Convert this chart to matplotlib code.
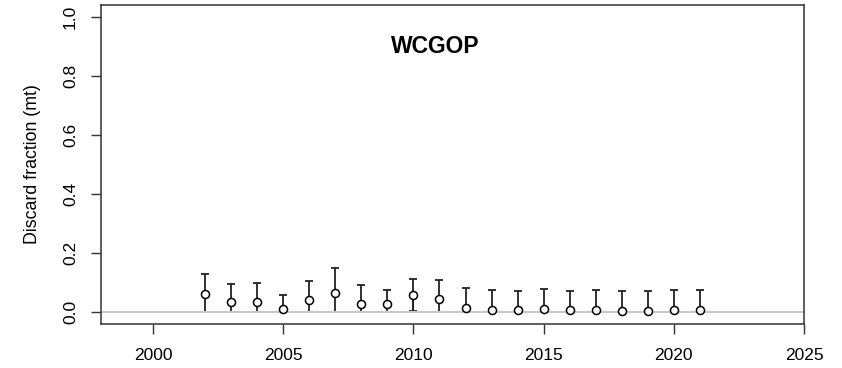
import matplotlib
matplotlib.use("Agg")
import matplotlib.pyplot as plt
import numpy as np

years = [2002, 2003, 2004, 2005, 2006, 2007, 2008, 2009, 2010, 2011,
         2012, 2013, 2014, 2015, 2016, 2017, 2018, 2019, 2020, 2021]
discard_frac = [0.061, 0.036, 0.036, 0.012, 0.041, 0.066, 0.029, 0.027, 0.059, 0.043,
                0.015, 0.007, 0.007, 0.011, 0.007, 0.009, 0.004, 0.004, 0.008, 0.007]
upper = [0.128, 0.097, 0.099, 0.058, 0.105, 0.148, 0.093, 0.075, 0.111, 0.109,
         0.082, 0.074, 0.072, 0.077, 0.072, 0.074, 0.072, 0.072, 0.074, 0.074]
lower = [0.0, 0.0, 0.0, 0.0, 0.0, 0.0, 0.0, 0.0, 0.005, 0.0,
         0.0, 0.0, 0.0, 0.0, 0.0, 0.0, 0.0, 0.0, 0.0, 0.0]
xticks = [2000, 2005, 2010, 2015, 2020, 2025]
yticks = [0.0, 0.2, 0.4, 0.6, 0.8, 1.0]
title = "WCGOP"
ylabel = "Discard fraction (mt)"

plt.rcParams['font.family'] = ['Liberation Sans', 'DejaVu Sans']

fig = plt.figure(figsize=(8.42, 3.68), dpi=100)
ax = fig.add_axes([101/842, 1 - 324/368, (804-101)/842, (324-5)/368])

yrs = np.array(years)
y = np.array(discard_frac)
up = np.array(upper)
lo = np.array(lower)
ecol = '#222222'

# upper half of the interval with cap at the top
ax.errorbar(yrs, y, yerr=[np.zeros_like(y), up - y], fmt='none', ecolor=ecol,
            elinewidth=1.3, capsize=3, capthick=1.3, zorder=2)
# lower half of the interval
ax.vlines(yrs, lo, y, colors=ecol, lw=1.3, zorder=2)
pos = lo > 0
ax.errorbar(yrs[pos], y[pos], yerr=[y[pos] - lo[pos], np.zeros(pos.sum())], fmt='none',
            ecolor=ecol, elinewidth=1.3, capsize=3, capthick=1.3, zorder=2)

ax.axhline(0, color='#c8c8c8', lw=1.5, zorder=2.5)
ax.plot(yrs, y, 'o', ms=5.8, mfc='white', mec='black', mew=1.1, zorder=3)

ax.set_xlim(1998, 2025)
ax.set_ylim(-0.04, 1.04)
ax.set_xticks(xticks)
ax.set_xticklabels([str(t) for t in xticks])
ax.set_yticks(yticks)
ax.set_yticklabels([f"{t:.1f}" for t in yticks], rotation=90, va='center')
ax.tick_params(axis='both', length=7.5, width=1, color='#333333', labelsize=12.5)
ax.tick_params(axis='x', pad=10)
ax.tick_params(axis='y', pad=9)
for s in ax.spines.values():
    s.set_color('#333333')
    s.set_linewidth(1.1)

ax.set_ylabel(ylabel, fontsize=12.8, labelpad=16)
ax.text(2010.85, 0.90, title, fontsize=16.5, fontweight='bold', ha='center', va='center')

fig.savefig("out.png", dpi=100)
